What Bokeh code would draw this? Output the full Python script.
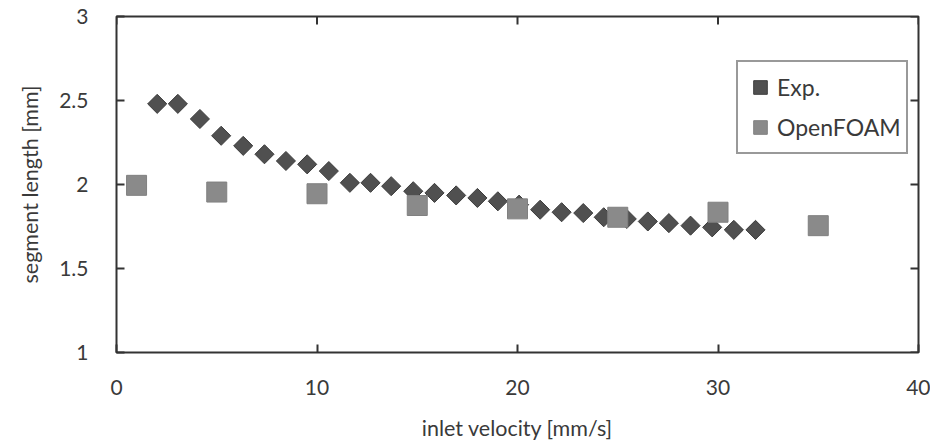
import numpy as np
from bokeh.plotting import figure
from bokeh.models import Range1d, FixedTicker, Legend, LegendItem, ColumnDataSource
from bokeh.embed import file_html
from bokeh.resources import INLINE

# --- data ---
exp_velocity = [2.03, 3.06, 4.16, 5.22, 6.32, 7.38, 8.45, 9.51, 10.59, 11.64, 12.67, 13.7,
                14.8, 15.86, 16.94, 18.0, 19.02, 20.08, 21.13, 22.2, 23.28, 24.3, 25.45,
                26.5, 27.55, 28.63, 29.71, 30.79, 31.87]
exp_length = [2.48, 2.48, 2.39, 2.29, 2.23, 2.18, 2.14, 2.12, 2.08, 2.01, 2.01, 1.99,
              1.96, 1.95, 1.935, 1.92, 1.90, 1.88, 1.85, 1.835, 1.83, 1.805, 1.795,
              1.78, 1.77, 1.755, 1.745, 1.73, 1.73]
foam_velocity = [1, 5, 10, 15, 20, 25, 30, 35]
foam_length = [1.995, 1.955, 1.945, 1.875, 1.855, 1.805, 1.835, 1.755]

x_ticks = [0, 10, 20, 30, 40]
x_tick_labels = ["0", "10", "20", "30", "40"]
y_ticks = [1, 1.5, 2, 2.5, 3]
y_tick_labels = ["1", "1.5", "2", "2.5", "3"]

X_MIN, X_MAX = 0, 40
Y_MIN, Y_MAX = 1, 3

FONT = "Lato"
TXT = "#3a3a3a"
LINE = "#333333"

p = figure(width=930, height=446, output_backend="svg", toolbar_location=None,
           x_range=Range1d(X_MIN, X_MAX), y_range=Range1d(Y_MIN, Y_MAX),
           min_border_left=116, min_border_right=12, min_border_top=16, min_border_bottom=94)
p.grid.visible = False
p.outline_line_color = LINE
p.outline_line_width = 2
p.background_fill_color = "white"
p.border_fill_color = "white"

xax = p.xaxis[0]
yax = p.yaxis[0]
xax.ticker = FixedTicker(ticks=x_ticks)
yax.ticker = FixedTicker(ticks=y_ticks)
xax.major_label_overrides = {t: l for t, l in zip(x_ticks, x_tick_labels)}
yax.major_label_overrides = {t: l for t, l in zip(y_ticks, y_tick_labels)}
xax.axis_label = "inlet velocity [mm/s]"
yax.axis_label = "segment length [mm]"
for ax in (xax, yax):
    ax.axis_line_color = None
    ax.major_tick_in = 8
    ax.major_tick_out = 0
    ax.major_tick_line_color = LINE
    ax.major_tick_line_width = 2
    ax.minor_tick_line_color = None
    ax.major_label_text_font = FONT
    ax.major_label_text_font_size = "21px"
    ax.major_label_text_color = TXT
    ax.axis_label_text_font = FONT
    ax.axis_label_text_font_size = "21.5px"
    ax.axis_label_text_font_style = "normal"
    ax.axis_label_text_color = TXT
xax.major_label_standoff = 27
xax.axis_label_standoff = 17
yax.major_label_standoff = 28
yax.axis_label_standoff = 13

# mirrored inward ticks on the top and right edges (clipped to the frame)
p.scatter(x=x_ticks, y=[Y_MAX] * len(x_ticks), marker="dash", angle=np.pi / 2, size=16,
          line_color=LINE, line_width=2)
p.scatter(x=[X_MAX] * len(y_ticks), y=y_ticks, marker="dash", size=16,
          line_color=LINE, line_width=2)

exp_src = ColumnDataSource(dict(x=exp_velocity, y=exp_length))
foam_src = ColumnDataSource(dict(x=foam_velocity, y=foam_length))

r_exp = p.scatter("x", "y", source=exp_src, marker="square", angle=np.pi / 4, size=13.5,
                  fill_color="#505050", line_color="#3c3c3c", line_width=1)
r_foam = p.scatter("x", "y", source=foam_src, marker="square", size=20,
                   fill_color="#8a8a8a", line_color="#808080", line_width=1)

legend = Legend(items=[LegendItem(label="Exp.", renderers=[r_exp]),
                       LegendItem(label="OpenFOAM", renderers=[r_foam])],
                location=(620, 198))
legend.border_line_color = LINE
legend.border_line_width = 2
legend.label_text_font = FONT
legend.label_text_font_size = "23px"
legend.label_text_color = TXT
legend.glyph_width = 34
legend.glyph_height = 40
legend.label_standoff = 0
legend.label_height = 40
legend.padding = 5
legend.spacing = 0
legend.margin = 0
legend.background_fill_alpha = 1
p.add_layout(legend, "center")

open("out.html", "w").write(file_html(p, INLINE))
